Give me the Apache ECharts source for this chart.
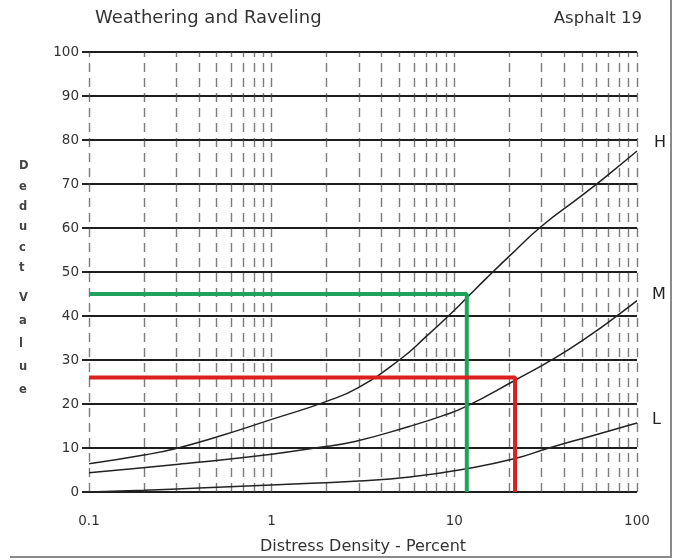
<!DOCTYPE html>
<html>
<head>
<meta charset="utf-8">
<script src="https://cdn.jsdelivr.net/npm/echarts@6/dist/echarts.min.js"></script>
<style>
html,body{margin:0;padding:0;background:#fff;}
#chart{width:674px;height:560px;}
</style>
</head>
<body>
<div id="chart"></div>
<script>
// ---- Data ----
const titleLeft = 'Weathering and Raveling';
const titleRight = 'Asphalt 19';
const xAxisName = 'Distress Density - Percent';
const yNameTop = ['D','e','d','u','c','t'];
const yNameBottom = ['V','a','l','u','e'];

const densityH = [0.1, 0.2, 0.3, 0.5, 1, 2, 3, 5, 7, 10, 12, 15, 20, 30, 50, 70, 100];
const deductH  = [6.4, 8.4, 9.9, 12.5, 16.5, 20.6, 23.8, 30, 35.3, 41.3, 44.6, 48.6, 53.6, 60.4, 67.4, 72.2, 77.5];
const densityM = [0.1, 0.31, 1, 1.72, 2.86, 5.66, 8.6, 11.7, 21.5, 36, 57, 81, 100];
const deductM  = [4.4, 6.3, 8.6, 10, 11.5, 14.9, 17.3, 19.5, 25.4, 30.6, 36, 40.6, 43.5];
const densityL = [0.1, 0.2, 0.4, 1, 3, 5.7, 11.7, 21.5, 33, 57, 100];
const deductL  = [0, 0.4, 0.9, 1.6, 2.5, 3.4, 5.3, 7.6, 10, 12.8, 15.7];

const greenDensity = 11.7, greenDeduct = 45;
const redDensity = 21.5, redDeduct = 26;

const densityMin = 0.1, densityMax = 100;
const deductMin = 0, deductMax = 100, deductStep = 10;
const gridDensities = [0.1,0.2,0.3,0.4,0.5,0.6,0.7,0.8,0.9,1,2,3,4,5,6,7,8,9,10,20,30,40,50,60,70,80,90,100];

// ---- Build ----
const zip = (xs, ys) => xs.map((x, i) => [x, ys[i]]);
const FONT = '"DejaVu Sans", sans-serif';

const chart = echarts.init(document.getElementById('chart'), null, {renderer: 'canvas'});

function curve(name, xs, ys, off) {
  return {
    type: 'line', name: name, data: zip(xs, ys), smooth: 0.5,
    showSymbol: false, symbol: 'none', silent: true,
    lineStyle: {color: '#222', width: 1.5},
    endLabel: {show: true, formatter: name, color: '#222', fontFamily: FONT, fontSize: 16, offset: off},
    z: 5
  };
}

const option = {
  animation: false,
  backgroundColor: '#fff',
  grid: {left: 89, right: 37, top: 52, bottom: 67},
  xAxis: {
    type: 'log', logBase: 10, min: densityMin, max: densityMax,
    name: xAxisName, nameLocation: 'middle', nameGap: 47,
    nameTextStyle: {fontFamily: FONT, fontSize: 16, color: '#333'},
    axisLine: {show: false}, axisTick: {show: false}, splitLine: {show: false},
    axisLabel: {fontFamily: FONT, fontSize: 13.5, color: '#333', margin: 22,
      formatter: v => String(v)}
  },
  yAxis: {
    type: 'value', min: deductMin, max: deductMax, interval: deductStep,
    axisLine: {show: false},
    axisTick: {show: true, length: 7, lineStyle: {color: '#222', width: 2}},
    splitLine: {show: true, lineStyle: {color: '#1e1e1e', width: 2}},
    axisLabel: {fontFamily: FONT, fontSize: 13.5, color: '#333', margin: 10}
  },
  series: [
    {
      type: 'line', data: [], silent: true,
      markLine: {
        silent: true, symbol: ['none', 'none'], label: {show: false},
        lineStyle: {color: '#444', width: 1.4, type: [9, 6], opacity: 0.7},
        data: gridDensities.map(v => ({xAxis: v}))
      },
      z: 1
    },
    curve('H', densityH, deductH, [9, -8]),
    curve('M', densityM, deductM, [7, -6]),
    curve('L', densityL, deductL, [7, -3]),
    {
      type: 'line', silent: true, showSymbol: false, symbol: 'none',
      data: [[densityMin, greenDeduct], [greenDensity, greenDeduct], [greenDensity, deductMin]],
      lineStyle: {color: '#1fa35a', width: 4}, z: 6
    },
    {
      type: 'line', silent: true, showSymbol: false, symbol: 'none',
      data: [[densityMin, redDeduct], [redDensity, redDeduct], [redDensity, deductMin]],
      lineStyle: {color: '#dc1f1f', width: 4}, z: 6
    }
  ],
  graphic: [
    {type: 'text', left: 95, top: 9, style: {text: titleLeft, font: '18px ' + FONT, fill: '#333'}},
    {type: 'text', right: 32, top: 10, style: {text: titleRight, font: '16.5px ' + FONT, fill: '#333'}},
    {type: 'text', left: 19, top: 156, style: {text: yNameTop.join('\n'), font: 'bold 11.5px ' + FONT, fill: '#444', lineHeight: 20.4, align: 'center'}},
    {type: 'text', left: 19, top: 287, style: {text: yNameBottom.join('\n'), font: 'bold 11.5px ' + FONT, fill: '#444', lineHeight: 23, align: 'center'}},
    {type: 'line', shape: {x1: 671, y1: 0, x2: 671, y2: 557}, style: {stroke: '#8a8a8a', lineWidth: 2}},
    {type: 'line', shape: {x1: 10, y1: 557, x2: 672, y2: 557}, style: {stroke: '#8a8a8a', lineWidth: 2}}
  ]
};
chart.setOption(option);
</script>
</body>
</html>
